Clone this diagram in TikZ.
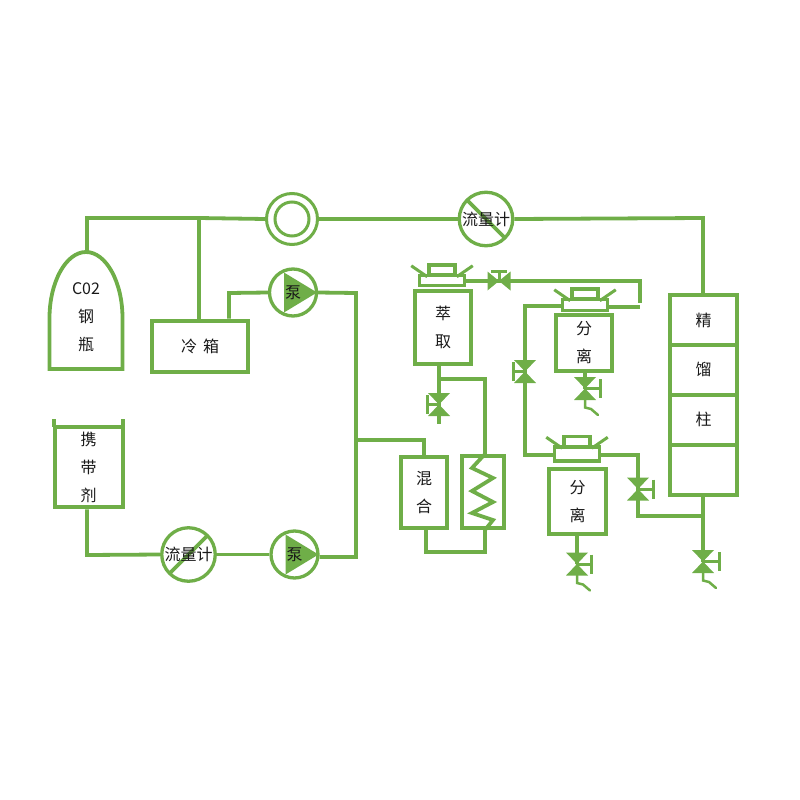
\documentclass[tikz,border=0pt]{standalone}
\usepackage{fontspec}
\setmainfont{Noto Sans CJK SC}
\usetikzlibrary{positioning}
\definecolor{pipegreen}{HTML}{6FAE48}

\newcommand{\lid}[3]{
    \node[lidneck, minimum height=#3] (#1) at (#2) {};
    \node[lidcap, above=-3pt of #1] (#1cap) {};
    \draw[lidear] (#1cap.south west) -- ++(-16,-11);
    \draw[lidear] (#1cap.south east) -- ++(16,-11);
}
\newcommand{\valveh}[2]{
    \coordinate (#1) at (#2);
    \fill[pipegreen] (#1) -- ++(-11.5,-9.5) -- ++(0,19) -- cycle;
    \fill[pipegreen] (#1) -- ++(11.5,-9.5) -- ++(0,19) -- cycle;
    \draw[valvestem] (#1) -- ++(0,-10) ++(-8,0) -- ++(16,0);
}
\newcommand{\valvev}[3]{
    \coordinate (#1) at (#2);
    \fill[pipegreen] (#1) -- ++(-11,-11.5) -- ++(22,0) -- cycle;
    \fill[pipegreen] (#1) -- ++(-11,11.5) -- ++(22,0) -- cycle;
    \draw[valvestem] (#1) -- ++(#3,0) ++(0,-9.5) -- ++(0,19);
}
\newcommand{\tailpipe}[1]{
    \draw[tailline] (#1) -- ++(0,19) -- ++(6,1.5) -- ++(7,6);
}

\begin{document}
\begin{tikzpicture}[x=1pt,y=-1pt]
    \tikzstyle{pipe}=[draw=pipegreen, line width=3.8pt]
    \tikzstyle{vessel}=[draw=pipegreen, fill=white, line width=4pt, inner sep=0pt, align=center,
        text=black!90, font=\fontsize{16}{28}\selectfont]
    \tikzstyle{label}=[inner sep=0pt, align=center, text=black!90, font=\fontsize{16}{28}\selectfont]
    \tikzstyle{lidneck}=[draw=pipegreen, fill=white, line width=3.5pt, inner sep=0pt, minimum width=45pt]
    \tikzstyle{lidcap}=[draw=pipegreen, fill=white, line width=3.5pt, inner sep=0pt, minimum width=26pt, minimum height=10pt]
    \tikzstyle{lidear}=[draw=pipegreen, line width=3pt]
    \tikzstyle{valvestem}=[draw=pipegreen, line width=3pt]
    \tikzstyle{tailline}=[draw=pipegreen, line width=2.5pt, line cap=round]
    \tikzstyle{cell}=[vessel, minimum width=67pt, minimum height=49.9pt]
    \tikzstyle{dial}=[circle, draw=pipegreen, fill=white, line width=3.3pt, inner sep=0pt,
        text=black!90, font=\fontsize{16}{16}\selectfont]
    \tikzstyle{pump}=[dial, minimum size=47pt, path picture={
        \fill[pipegreen] ([xshift=-9pt,yshift=20pt]path picture bounding box.center)
            -- ([xshift=24pt]path picture bounding box.center)
            -- ([xshift=-9pt,yshift=-20pt]path picture bounding box.center) -- cycle;}]
    \tikzstyle{meterdown}=[dial, minimum size=53.5pt, path picture={
        \draw[pipe] (path picture bounding box.north west) -- (path picture bounding box.south east);}]
    \tikzstyle{meterup}=[dial, minimum size=53.5pt, path picture={
        \draw[pipe] (path picture bounding box.south west) -- (path picture bounding box.north east);}]

    \useasboundingbox (0,0) rectangle (800,800);

    \draw[pipe] (86,369) -- (49.5,369) -- (49.5,318) .. controls (49.5,282) and (66,252) .. (86,252)
        .. controls (106,252) and (122.5,282) .. (122.5,318) -- (122.5,369) -- cycle;
    \coordinate (bottletop) at (87,252);
    \node[label] (bottle) at (86,317) {C02\\钢\\瓶};

    \node[vessel, minimum width=96.5pt, minimum height=51pt] (cooler) at (200,346) {冷\hspace{6pt}箱};
    \node[vessel, minimum width=68pt, minimum height=80.5pt] (tank) at (88.5,467) {携\\带\\剂};
    \draw[pipe] (tank.north west) ++(1.75,1.75) -- ++(0,-8);
    \draw[pipe] (tank.north east) ++(-1.75,1.75) -- ++(0,-8);

    \node[dial, line width=3pt, minimum size=51pt] (ring) at (292,219) {};
    \node[dial, line width=3pt, minimum size=34pt] (ringin) at (292,219) {};
    \node[meterdown] (meter1) at (486,219) {流量计};
    \node[meterup] (meter2) at (188.5,554.5) {流量计};
    \node[pump] (pump1) at (293,292.5) {泵};
    \node[pump] (pump2) at (294.5,554.5) {泵};

    \node[vessel, minimum width=56.5pt, minimum height=73.5pt] (extract) at (443,327.5) {萃\\取};
    \node[vessel, minimum width=56.5pt, minimum height=56.5pt] (sep1) at (584,343) {分\\离};
    \node[vessel, minimum width=57.5pt, minimum height=65.5pt] (sep2) at (577.5,501.5) {分\\离};
    \lid{extractlid}{442,280.5}{10pt}
    \lid{sep1lid}{585,305}{11pt}
    \lid{sep2lid}{577,454}{14pt}

    \node[vessel, minimum width=46.5pt, minimum height=71.5pt] (mixer) at (424,492.5) {混\\合};
    \node[vessel, minimum width=42.5pt, minimum height=72.5pt] (exchanger) at (483,492) {};

    \node[cell] (col1) at (703.5,320) {精};
    \node[cell, below=-4pt of col1] (col2) {馏};
    \node[cell, below=-4pt of col2] (col3) {柱};
    \node[cell, below=-4pt of col3] (col4) {};

    \valveh{vtop}{499,281}
    \valvev{vextract}{439,404.5}{-12}
    \valvev{vleft}{525,371.5}{-12}
    \valvev{vsep1}{585,388.5}{15}
    \valvev{vsep2}{577,564}{14}
    \valvev{vright}{638,489}{15}
    \valvev{vcol}{703,561.5}{16}

    \coordinate (jtop) at (87,218);
    \coordinate (jcool) at (199,218);
    \coordinate (jpump) at (229,293);
    \coordinate (jfeed) at (703,218);
    \coordinate (jmain) at (356,293);
    \coordinate (jmain2) at (356,557);
    \coordinate (jmix) at (356,440);
    \coordinate (jtank) at (87,555);
    \coordinate (jhot) at (485,379);
    \coordinate (jbot1) at (426,552);
    \coordinate (jbot2) at (485,552);
    \coordinate (jup) at (640,281);
    \coordinate (jup2) at (640,303);
    \coordinate (jback) at (640,307);
    \coordinate (jleft) at (525,306);
    \coordinate (jleft2) at (525,455);
    \coordinate (jright) at (638,455);
    \coordinate (jout) at (638,516);

    \draw[pipe] (bottletop) -- (jtop) -- (jcool) -- (ring.west);
    \draw[pipe] (jcool) -- (jcool |- cooler.north);
    \draw[pipe] (ring.east) -- (meter1.west);
    \draw[pipe] (meter1.east) -- (jfeed) -- (col1.north -| jfeed);
    \draw[pipe] (cooler.north -| jpump) -- (jpump) -- (pump1.west);
    \draw[pipe] (pump1.east) -- (jmain) -- (jmain2) -- (pump2.east |- jmain2);
    \draw[pipe] (jmix) -| (mixer.north);
    \draw[pipe] (tank.south -| jtank) -- (jtank) -- (meter2.west);
    \draw[pipe] (meter2.east) -- (pump2.west);

    \draw[pipe] (extract.south -| vextract) -- (vextract) -- ++(0,19);
    \draw[pipe] (vextract |- jhot) -- (jhot) -- (exchanger.north -| jhot);
    \draw[pipe] (mixer.south -| jbot1) -- (jbot1) -- (jbot2) -- (exchanger.south -| jbot2);
    \draw[pipe] (484,455) -- (472,468) -- (493,478) -- (472,491) -- (493,502) -- (472,513) -- (493,520) -- (485,530);

    \draw[pipe] (extractlid.east |- vtop) -- (vtop) -- (jup) -- (jup2);
    \draw[pipe] (sep1lid.east |- jback) -- (jback);
    \draw[pipe] (sep1lid.west |- jleft) -- (jleft) -- (jleft2) -- (sep2lid.west |- jleft2);
    \draw[pipe] (sep1.south -| vsep1) -- (vsep1);
    \draw[pipe] (sep2.south -| vsep2) -- (vsep2);
    \draw[pipe] (sep2lid.east |- jright) -- (jright) -- (jout) -- (jout -| vcol);
    \draw[pipe] (col4.south -| vcol) -- (vcol);

    \tailpipe{vsep1}
    \tailpipe{vsep2}
    \tailpipe{vcol}
\end{tikzpicture}
\end{document}
